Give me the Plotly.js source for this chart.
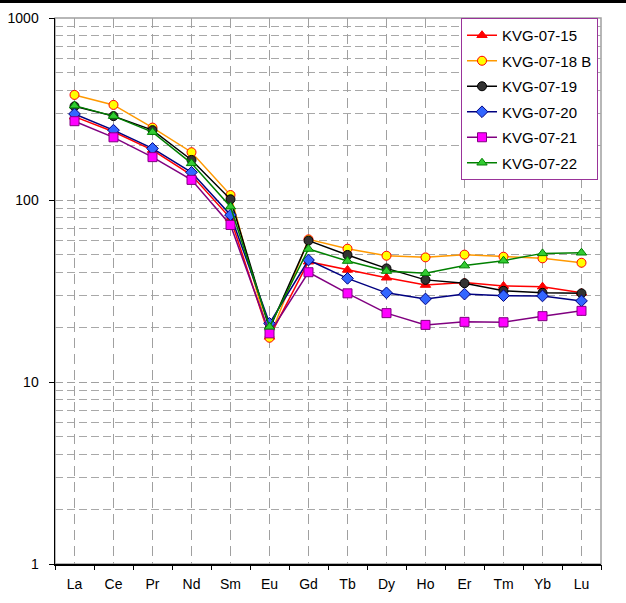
<!DOCTYPE html>
<html>
<head>
<meta charset="utf-8">
<script src="https://cdn.plot.ly/plotly-3.0.1.min.js"></script>
<style>html,body{margin:0;padding:0;background:#fff;}#chart{width:626px;height:603px;}</style>
</head>
<body>
<div id="chart"></div>
<script>
const elements = ['La','Ce','Pr','Nd','Sm','Eu','Gd','Tb','Dy','Ho','Er','Tm','Yb','Lu'];
const seriesNames = ['KVG-07-15','KVG-07-18 B','KVG-07-19','KVG-07-20','KVG-07-21','KVG-07-22'];
const kvg15  = [287, 237, 188, 137, 79.3, 17.7, 45.8, 41.3, 37.4, 34.1, 35.2, 33.7, 33.4, 30.9];
const kvg18B = [378, 333, 250, 183, 106.5, 17.5, 60.8, 54.0, 49.4, 48.4, 50.1, 48.8, 47.8, 45.2];
const kvg19  = [327, 289, 242, 166, 100.9, 19.6, 59.8, 49.9, 42.1, 36.4, 34.9, 31.7, 30.9, 30.7];
const kvg20  = [297, 242, 192, 142, 82.7, 21.0, 46.8, 37.1, 30.9, 28.6, 30.4, 29.8, 29.7, 27.9];
const kvg21  = [271, 221, 172, 129, 72.9, 18.5, 40.1, 30.7, 23.9, 20.6, 21.4, 21.3, 23.0, 24.6];
const kvg22  = [330, 289, 236, 159, 91.9, 20.1, 53.8, 46.2, 40.7, 39.6, 43.6, 46.4, 50.9, 51.3];
const yTickVals = [1, 10, 100, 1000];
const yTickText = ['1', '10', '100', '1000'];

const allValues = [kvg15, kvg18B, kvg19, kvg20, kvg21, kvg22];
const styles = [
  {line:'#ff0000', fill:'#ff0000', edge:'#ff0000', symbol:'triangle-up', size:9},
  {line:'#ff9900', fill:'#ffff00', edge:'#ff0000', symbol:'circle', size:9},
  {line:'#000000', fill:'#333333', edge:'#000000', symbol:'circle', size:9},
  {line:'#000080', fill:'#3366ff', edge:'#000080', symbol:'diamond', size:9},
  {line:'#800080', fill:'#ff00ff', edge:'#800080', symbol:'square', size:9},
  {line:'#008000', fill:'#33cc33', edge:'#008000', symbol:'triangle-up', size:9}
];

const traces = allValues.map((vals, i) => ({
  type: 'scatter', mode: 'lines+markers',
  name: seriesNames[i], x: elements, y: vals,
  legendgroup: 'g' + i,
  line: {color: styles[i].line, width: 1.5},
  marker: {symbol: styles[i].symbol, size: styles[i].size, color: styles[i].fill,
           line: {color: styles[i].edge, width: 1}}
}));
// helper axis for boundary ticks
traces.push({type:'scatter', x:[], y:[], xaxis:'x2', yaxis:'y', showlegend:false, hoverinfo:'skip'});

const minorVals = [];
[1, 10, 100].forEach(d => { for (let k = 2; k <= 9; k++) minorVals.push(d * k); });
const boundaries = [];
for (let k = 0; k <= elements.length; k++) boundaries.push(k - 0.5);

const fontFam = 'Liberation Sans, Arial, sans-serif';
const layout = {
  width: 626, height: 603,
  margin: {l: 55, r: 25, t: 18, b: 39, pad: 0},
  paper_bgcolor: '#ffffff', plot_bgcolor: '#ffffff',
  font: {family: fontFam, size: 14, color: '#000'},
  showlegend: true,
  legend: {
    x: 0.7436, y: 1.0, xanchor: 'left', yanchor: 'top',
    bgcolor: '#ffffff', bordercolor: '#993399', borderwidth: 1,
    font: {family: fontFam, size: 15, color: '#000'},
    traceorder: 'grouped', tracegroupgap: 3
  },
  xaxis: {
    type: 'category', range: [-0.5, elements.length - 0.5],
    showgrid: true, gridcolor: '#a0a0a0', gridwidth: 1, griddash: '10px,6px',
    ticks: '', showline: true, linecolor: '#000', linewidth: 1.5,
    tickfont: {family: fontFam, size: 14, color: '#000'},
    ticklabelstandoff: 7,
    zeroline: false, fixedrange: true
  },
  xaxis2: {
    type: 'linear', overlaying: 'x', anchor: 'y', side: 'bottom',
    range: [-0.5, elements.length - 0.5],
    tickmode: 'array', tickvals: boundaries, showticklabels: false,
    ticks: 'outside', ticklen: 5, tickcolor: '#000', tickwidth: 1,
    showgrid: false, zeroline: false, showline: false
  },
  yaxis: {
    type: 'log', range: [0, 3],
    tickmode: 'array', tickvals: yTickVals, ticktext: yTickText,
    ticks: 'outside', ticklen: 5, tickcolor: '#000', tickwidth: 1,
    showline: true, linecolor: '#000', linewidth: 1.5,
    showgrid: true, gridcolor: '#a0a0a0', gridwidth: 1, griddash: '8px,4px',
    minor: {tickmode: 'array', tickvals: minorVals, showgrid: true,
            gridcolor: '#a8a8a8', gridwidth: 1, griddash: '8px,4px', ticks: ''},
    tickfont: {family: fontFam, size: 14, color: '#000'},
    ticklabelstandoff: 7,
    zeroline: false, fixedrange: true
  },
  shapes: [
    {type: 'rect', xref: 'paper', yref: 'paper', x0: 0, x1: 1, y0: 0, y1: 1,
     line: {color: '#a0a0a0', width: 1.5}, layer: 'below'},
    {type: 'line', xref: 'paper', yref: 'paper', x0: -55/546, x1: 1 + 25/546,
     y0: 1 + 16.5/546, y1: 1 + 16.5/546, line: {color: '#000', width: 3}}
  ]
};

Plotly.newPlot('chart', traces, layout, {displayModeBar: false, staticPlot: true});
</script>
</body>
</html>
